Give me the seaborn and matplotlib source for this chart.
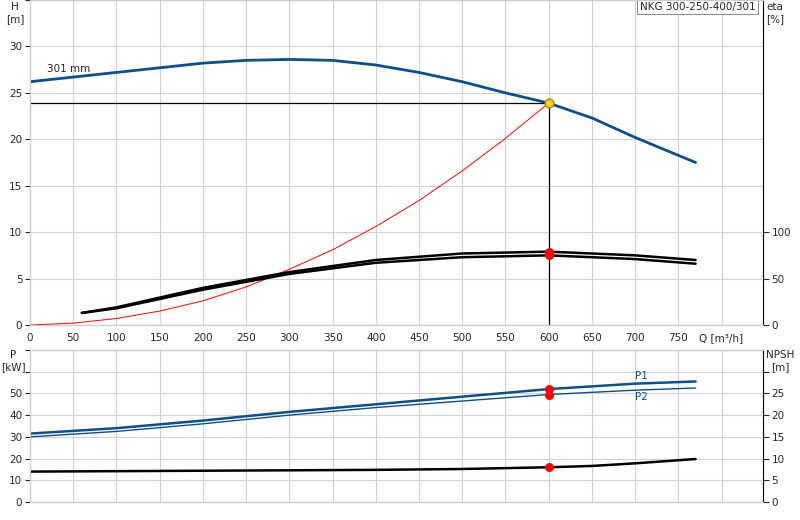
import numpy as np
import matplotlib
matplotlib.use("Agg")
import matplotlib.pyplot as plt
import seaborn as sns

# pump curve H(Q)
q_h = [0, 50, 100, 150, 200, 250, 300, 350, 400, 450, 500, 550, 600, 650, 700, 770]
h = [26.2, 26.7, 27.2, 27.7, 28.2, 28.5, 28.6, 28.5, 28.0, 27.2, 26.2, 25.0, 23.9, 22.3, 20.2, 17.5]
# system curve
q_sys = [0, 50, 100, 150, 200, 250, 300, 350, 400, 450, 500, 550, 600]
h_sys = [0, 0.2, 0.7, 1.5, 2.6, 4.1, 6.0, 8.1, 10.6, 13.4, 16.6, 20.1, 23.9]
# efficiency curves [%]
q_eta = [60, 100, 200, 300, 400, 500, 600, 700, 770]
eta1 = [13, 19, 40, 57, 70, 77, 79, 75, 70]
eta2 = [13, 18, 38, 55, 67, 73, 75, 71, 66]
# power [kW]
q_p = [0, 100, 200, 300, 400, 500, 600, 700, 770]
p1 = [31.5, 34, 37.5, 41.5, 45, 48.5, 52, 54.5, 55.5]
p2 = [30, 32.5, 36, 40, 43.5, 46.5, 49.5, 51.5, 52.5]
# NPSH [m]
q_npsh = [0, 200, 400, 500, 600, 650, 700, 770]
npsh = [7.0, 7.2, 7.4, 7.6, 8.0, 8.3, 8.9, 9.9]

q_op, h_op = 600, 23.9
blue = "#0b4f8a"

sns.set_style("whitegrid", {"grid.color": "#d0d0d0"})
plt.rcParams["font.family"] = ["DejaVu Sans"]
plt.rcParams["font.size"] = 7.5

fig = plt.figure(figsize=(8, 5.2), dpi=100)
ax = fig.add_axes([30/800, 1-325/520, 733/800, 325/520])
bx = fig.add_axes([30/800, 1-502/520, 733/800, 152/520])

xt = list(range(0, 801, 50))
xl = [str(v) for v in xt[:-1]] + ["Q [m³/h]"]
for a in (ax, bx):
    a.set_xlim(0, 848)
    a.set_xticks(xt)
    for s in a.spines.values():
        s.set_color("#888888")
        s.set_linewidth(0.8)
ax.set_xticklabels(xl)
bx.set_xticklabels([])

# top plot
sns.lineplot(x=q_h, y=h, ax=ax, color=blue, lw=2)
sns.lineplot(x=q_sys, y=h_sys, ax=ax, color="red", lw=0.7)
ax.plot([0, q_op], [h_op, h_op], color="black", lw=0.9)
ax.plot([q_op, q_op], [0, h_op], color="black", lw=0.9)
ax.scatter([q_op], [h_op], s=40, color="#ffd21f", edgecolor="#c08000", zorder=5)
ax.text(20, 27.2, "301 mm", fontsize=7.5)
ax.set_ylim(0, 35)
ax.set_yticks(range(0, 36, 5))
ax.set_yticklabels([str(v) for v in range(0, 31, 5)] + [""])
ax.text(0.99, 0.995, "NKG 300-250-400/301", transform=ax.transAxes, ha="right", va="top",
        fontsize=7.5, bbox=dict(facecolor="white", edgecolor="#888888", lw=0.7, pad=2))
fig.text(15/800, 1-2/520, "H\n[m]", ha="center", va="top", linespacing=1.2)
fig.text(775/800, 1-2/520, "eta\n[%]", ha="center", va="top", linespacing=1.2)

ex = ax.twinx()
ex.grid(False)
sns.lineplot(x=q_eta, y=eta1, ax=ex, color="black", lw=1.8)
sns.lineplot(x=q_eta, y=eta2, ax=ex, color="black", lw=1.8)
ex.scatter([q_op, q_op], [eta1[6], eta2[6]], s=30, color="red", zorder=5)
ex.set_ylim(0, 350)
ex.set_yticks([0, 50, 100])
ex.tick_params(axis="y", length=4, direction="out", right=True)
ex.spines["right"].set_color("black")

# bottom plot
sns.lineplot(x=q_p, y=p1, ax=bx, color=blue, lw=1.8)
sns.lineplot(x=q_p, y=p2, ax=bx, color=blue, lw=1)
bx.scatter([q_op, q_op], [p1[6], p2[6]], s=30, color="red", zorder=5)
bx.text(700, 56.5, "P1", color=blue, ha="left")
bx.text(700, 47, "P2", color=blue, ha="left")
bx.set_ylim(0, 70)
bx.set_yticks(range(0, 71, 10))
bx.set_yticklabels(["0", "10", "20", "30", "40", "50", "", ""])
fig.text(13/800, 1-350/520, "P\n[kW]", ha="center", va="top", linespacing=1.2)
fig.text(780/800, 1-350/520, "NPSH\n[m]", ha="center", va="top", linespacing=1.2)

nx = bx.twinx()
nx.grid(False)
sns.lineplot(x=q_npsh, y=npsh, ax=nx, color="black", lw=1.8)
nx.scatter([q_op], [8.0], s=30, color="red", zorder=5)
nx.set_ylim(0, 35)
nx.set_yticks(range(0, 31, 5))
nx.set_yticklabels([str(v) for v in range(0, 26, 5)] + [""])
nx.tick_params(axis="y", length=4, direction="out", right=True)
nx.spines["right"].set_color("black")

for a in (ax, bx, ex, nx):
    a.set_xlabel("")
    a.set_ylabel("")
    a.tick_params(pad=2)

fig.savefig("out.png", dpi=100)
